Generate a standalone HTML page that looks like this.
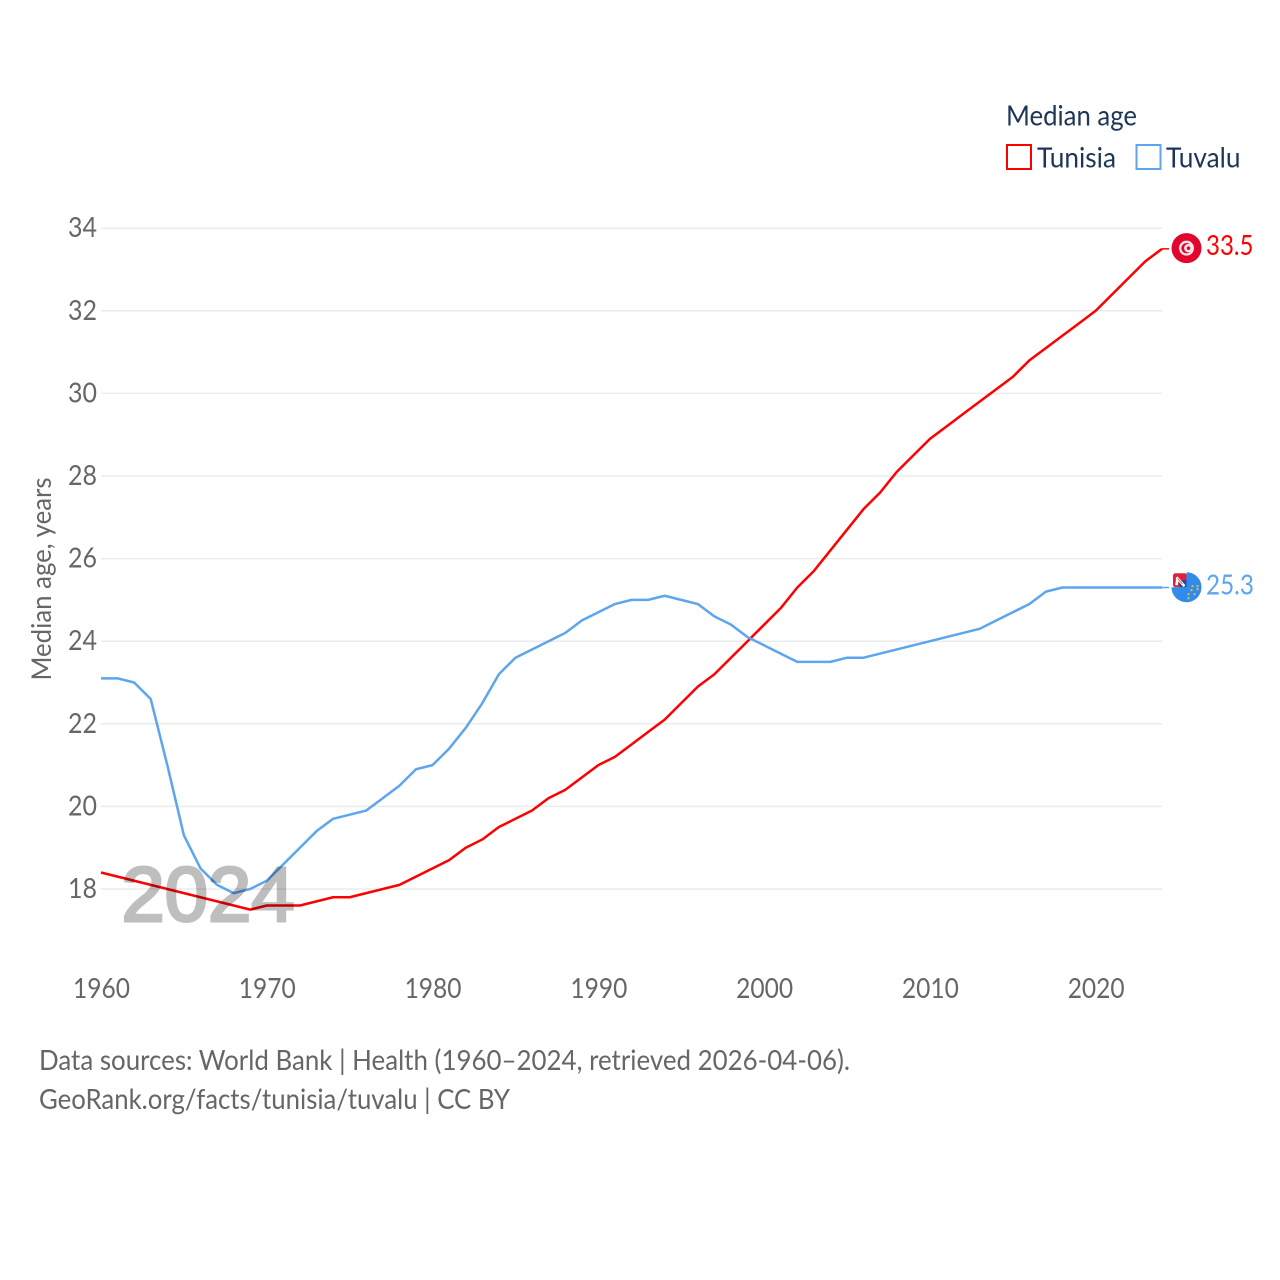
<!DOCTYPE html>
<html lang="en">
<head>
<meta charset="utf-8">
<title>Median age: Tunisia and Tuvalu</title>
<style>
html,body{margin:0;padding:0;background:#fff;width:1280px;height:1280px;overflow:hidden}
svg{display:block}
text{font-family:"Lato","Carlito","Liberation Sans",sans-serif}
</style>
</head>
<body>
<svg id="chart" xmlns="http://www.w3.org/2000/svg" width="1280" height="1280" viewBox="0 0 1280 1280">
  <rect x="0" y="0" width="1280" height="1280" fill="#ffffff"/>
  <g id="grid"></g>
  <g id="yticks"></g>
  <g id="xticks"></g>
  <text transform="translate(51,579) rotate(-90)" text-anchor="middle" font-size="27.5" fill="#666666" textLength="203" lengthAdjust="spacingAndGlyphs">Median age, years</text>
  <g id="series"></g>

  <text x="121.5" y="921" font-size="77" font-weight="400" fill="#000000" stroke="#000000" stroke-width="3" opacity="0.25" textLength="173" lengthAdjust="spacingAndGlyphs" style="font-family:'Liberation Sans',sans-serif">2024</text>

  <g id="flag-tunisia">
    <circle cx="0" cy="0" r="15" fill="#e0062e"/>
    <circle cx="0" cy="0" r="7.5" fill="#f5e6e9"/>
    <circle cx="0" cy="0" r="5.2" fill="#e0062e"/>
    <circle cx="1.8" cy="0" r="4.2" fill="#f5e6e9"/>
    <circle cx="2" cy="0" r="1.8" fill="#e0062e"/>
  </g>

  <g id="flag-tuvalu">
    <defs>
      <clipPath id="tuvalu-clip"><circle cx="0" cy="0" r="15"/></clipPath>
    </defs>
    <rect x="-13.5" y="-14" width="14" height="14" rx="2.5" fill="#e0213c"/>
    <g clip-path="url(#tuvalu-clip)">
      <path d="M0 -16 H16 V16 H-16 V0 H0 Z" fill="#2f8cec"/>
      <rect x="-7" y="-7" width="7" height="7" fill="#1f4b9e"/>
      <path d="M-10-10 L-2-1 M-10-2 L-9-9" stroke="#ffffff" stroke-width="2.6" fill="none"/>
      <path d="M-9-9 L-4-3" stroke="#e0213c" stroke-width="0.7" fill="none"/>
      <g fill="#e3c04a">
        <rect x="5" y="-2" width="2" height="2"/><rect x="10" y="-2" width="2" height="2"/>
        <rect x="4" y="2" width="2" height="2"/><rect x="10" y="1" width="2" height="2"/>
        <rect x="1" y="6" width="2" height="2"/><rect x="7" y="6" width="2" height="2"/>
        <rect x="1" y="10" width="2" height="2"/>
      </g>
    </g>
  </g>

  <g id="end-labels"></g>

  <g>
    <text x="1006" y="125.5" font-size="28.5" fill="#1d3557" textLength="131" lengthAdjust="spacingAndGlyphs">Median age</text>
    <g>
      <rect x="1007" y="145" width="24" height="24" fill="none" stroke="#ff0000" stroke-width="2"/>
      <text x="1037" y="167.5" font-size="28.5" fill="#1d3557" textLength="79" lengthAdjust="spacingAndGlyphs">Tunisia</text>
    </g>
    <g>
      <rect x="1136.5" y="145" width="24" height="24" fill="none" stroke="#5da5ee" stroke-width="2"/>
      <text x="1166" y="167.5" font-size="28.5" fill="#1d3557" textLength="74.5" lengthAdjust="spacingAndGlyphs">Tuvalu</text>
    </g>
  </g>

  <text x="39" y="1070" font-size="28.5" fill="#666666" textLength="811" lengthAdjust="spacingAndGlyphs">Data sources: World Bank | Health (1960–2024, retrieved 2026-04-06).</text>
  <text x="39" y="1109" font-size="28.5" fill="#666666" textLength="471" lengthAdjust="spacingAndGlyphs">GeoRank.org/facts/tunisia/tuvalu | CC BY</text>
</svg>
<script>
const years = [1960,1961,1962,1963,1964,1965,1966,1967,1968,1969,1970,1971,1972,1973,1974,1975,1976,1977,1978,1979,1980,1981,1982,1983,1984,1985,1986,1987,1988,1989,1990,1991,1992,1993,1994,1995,1996,1997,1998,1999,2000,2001,2002,2003,2004,2005,2006,2007,2008,2009,2010,2011,2012,2013,2014,2015,2016,2017,2018,2019,2020,2021,2022,2023,2024];
const tunisiaValues = [18.4,18.3,18.2,18.1,18.0,17.9,17.8,17.7,17.6,17.5,17.6,17.6,17.6,17.7,17.8,17.8,17.9,18.0,18.1,18.3,18.5,18.7,19.0,19.2,19.5,19.7,19.9,20.2,20.4,20.7,21.0,21.2,21.5,21.8,22.1,22.5,22.9,23.2,23.6,24.0,24.4,24.8,25.3,25.7,26.2,26.7,27.2,27.6,28.1,28.5,28.9,29.2,29.5,29.8,30.1,30.4,30.8,31.1,31.4,31.7,32.0,32.4,32.8,33.2,33.5];
const tuvaluValues = [23.1,23.1,23.0,22.6,21.0,19.3,18.5,18.1,17.9,18.0,18.2,18.6,19.0,19.4,19.7,19.8,19.9,20.2,20.5,20.9,21.0,21.4,21.9,22.5,23.2,23.6,23.8,24.0,24.2,24.5,24.7,24.9,25.0,25.0,25.1,25.0,24.9,24.6,24.4,24.1,23.9,23.7,23.5,23.5,23.5,23.6,23.6,23.7,23.8,23.9,24.0,24.1,24.2,24.3,24.5,24.7,24.9,25.2,25.3,25.3,25.3,25.3,25.3,25.3,25.3];
const yTickValues = [18,20,22,24,26,28,30,32,34];
const xTickValues = [1960,1970,1980,1990,2000,2010,2020];

const NS = 'http://www.w3.org/2000/svg';
const xScale = function (year) { return 101 + (year - 1960) * (1162 - 101) / 64; };
const yScale = function (value) { return 889 - (value - 18) * 41.3; };
const pathFor = function (values) {
  return values.map(function (v, i) {
    return (i ? 'L' : 'M') + xScale(years[i]).toFixed(2) + ' ' + yScale(v).toFixed(2);
  }).join(' ');
};
const make = function (tag, attrs, parentId, content) {
  const el = document.createElementNS(NS, tag);
  Object.keys(attrs).forEach(function (k) { el.setAttribute(k, attrs[k]); });
  if (content !== undefined) el.textContent = content;
  document.getElementById(parentId).appendChild(el);
  return el;
};

yTickValues.forEach(function (t) {
  const line = make('line', {x1: 101, x2: 1162, y1: yScale(t), y2: yScale(t), stroke: '#ebebeb', 'stroke-width': 1.5}, 'grid');
  
  
  const label = make('text', {x: 97, y: yScale(t) + 9, 'text-anchor': 'end', 'font-size': 28.5, fill: '#666666', textLength: 29, lengthAdjust: 'spacingAndGlyphs'}, 'yticks', String(t));
  
  
});

xTickValues.forEach(function (t) {
  const label = make('text', {x: xScale(t) + 0.5, y: 998, 'text-anchor': 'middle', 'font-size': 28.5, fill: '#666666', textLength: 57, lengthAdjust: 'spacingAndGlyphs'}, 'xticks', String(t));
  
  
});

const tunisiaLine = make('path', {d: pathFor(tunisiaValues), fill: 'none', stroke: '#ff0000', 'stroke-width': 2.5, 'stroke-linejoin': 'round'}, 'series');



const tuvaluLine = make('path', {d: pathFor(tuvaluValues), fill: 'none', stroke: '#5da5ee', 'stroke-width': 2.5, 'stroke-linejoin': 'round'}, 'series');



const tunisiaLast = tunisiaValues[tunisiaValues.length - 1];
const tuvaluLast = tuvaluValues[tuvaluValues.length - 1];

const tunisiaLead = make('line', {x1: 1162, x2: 1169, y1: yScale(tunisiaLast), y2: yScale(tunisiaLast), stroke: '#ff0000', 'stroke-width': 1.5}, 'series');



const tuvaluLead = make('line', {x1: 1162, x2: 1169, y1: yScale(tuvaluLast), y2: yScale(tuvaluLast), stroke: '#5da5ee', 'stroke-width': 1.5}, 'series');



document.getElementById('flag-tunisia').setAttribute('transform', 'translate(1186.5,' + (yScale(tunisiaLast) - 0.7) + ')');
document.getElementById('flag-tuvalu').setAttribute('transform', 'translate(1186.5,' + (yScale(tuvaluLast) - 0.3) + ')');

const tunisiaValueLabel = make('text', {x: 1206, y: yScale(tunisiaLast) + 6, 'font-size': 28.5, fill: '#ff0000', textLength: 47.5, lengthAdjust: 'spacingAndGlyphs'}, 'end-labels', tunisiaLast.toFixed(1));



const tuvaluValueLabel = make('text', {x: 1206, y: yScale(tuvaluLast) + 7, 'font-size': 28.5, fill: '#5da5ee', textLength: 48, lengthAdjust: 'spacingAndGlyphs'}, 'end-labels', tuvaluLast.toFixed(1));


</script>
</body>
</html>
